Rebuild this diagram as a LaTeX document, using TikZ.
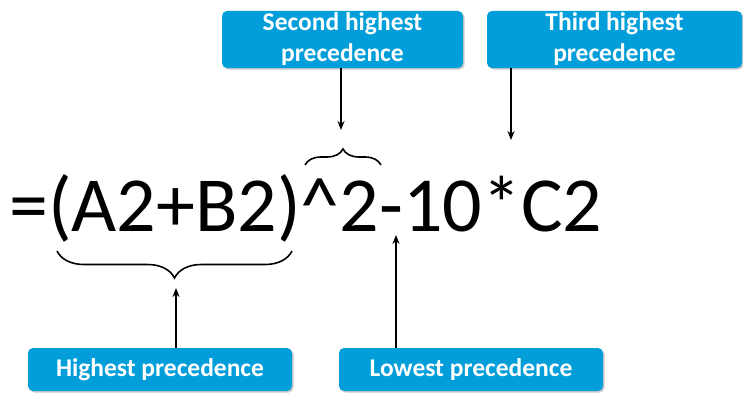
\documentclass[tikz,border=0pt]{standalone}
\usepackage{fontspec}
\setmainfont{Carlito}
\usetikzlibrary{arrows.meta,decorations.pathreplacing,shadows}
\definecolor{boxblue}{RGB}{2,158,218}
\tikzset{
  label box/.style={fill=boxblue, text=white, rounded corners=5pt, inner sep=0pt,
    font=\fontsize{25.5}{31}\selectfont\bfseries, align=center,
    drop shadow={shadow xshift=1.5pt, shadow yshift=-1.5pt, opacity=0.35, fill=black!60}},
  arr/.style={line width=1.5pt, -{Stealth[length=9pt,width=7pt]}},
  brc/.style={line width=1.6pt, decorate},
}
\begin{document}
\begin{tikzpicture}[x=1pt,y=1pt]
\useasboundingbox (0,0) rectangle (743,392);
% formula
\node[anchor=base west, inner sep=0pt, font=\fontsize{78}{90}\selectfont] (f) at (9,161) {=(A2+B2)\textasciicircum2-10*C2};
% boxes
\node[label box, minimum width=241pt, minimum height=57pt] (sec) at (342.5,352.5) {Second highest\\precedence};
\node[label box, minimum width=255pt, minimum height=57pt] (thr) at (614.5,352.5) {Third highest\\precedence};
\node[label box, minimum width=264pt, minimum height=43pt] (hig) at (160,22.5) {Highest precedence};
\node[label box, minimum width=264pt, minimum height=43pt] (low) at (471,22.5) {Lowest precedence};
% braces
\coordinate (ob1) at (305,227);
\coordinate (ob2) at (381,227);
\coordinate (ub1) at (292,141);
\coordinate (ub2) at (57,141);
\draw[brc, decoration={brace, amplitude=16pt}] (ob1) -- (ob2);
\draw[brc, decoration={brace, amplitude=27pt}] (ub1) -- (ub2);
% arrow targets
\coordinate (t2) at (341,262);
\coordinate (t3) at (511,252);
\coordinate (th) at (176,104);
\coordinate (tl) at (396,157);
\draw[arr] (sec.south -| t2) -- (t2);
\draw[arr] (thr.south -| t3) -- (t3);
\draw[arr] (hig.north -| th) -- (th);
\draw[arr] (low.north -| tl) -- (tl);
\end{tikzpicture}
\end{document}
